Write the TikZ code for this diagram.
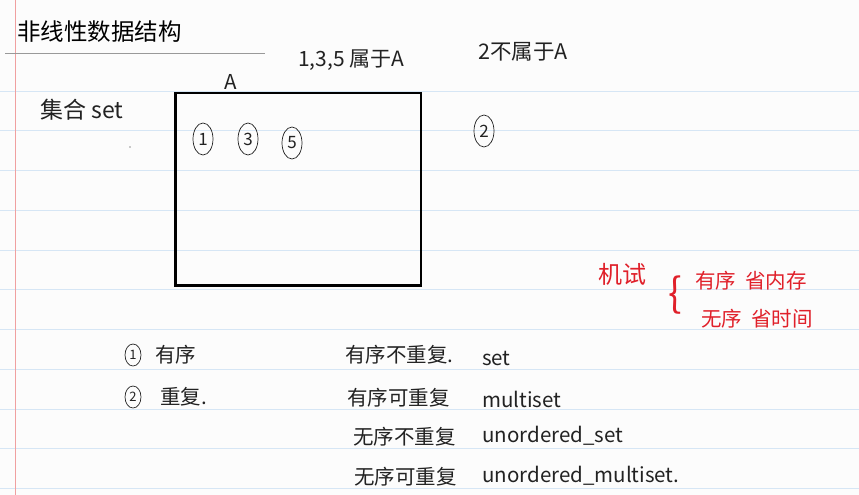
\documentclass[tikz,border=0pt]{standalone}
\usepackage{fontspec}
\setmainfont{Noto Sans CJK SC}
\newfontfamily\cjk{Noto Sans CJK SC}
\usetikzlibrary{shapes.geometric}
\definecolor{ruleblue}{HTML}{D6E6F5}
\definecolor{marginred}{HTML}{F0A0A0}
\definecolor{ink}{HTML}{222222}
\definecolor{redink}{HTML}{E0202A}
\tikzset{
  hand/.style={font=\fontsize{20.5}{22}\selectfont, text=ink, inner sep=0pt, anchor=west},
  redhand/.style={font=\fontsize{20.5}{22}\selectfont, text=redink, inner sep=0pt, anchor=west},
  circnum/.style={draw=ink, ellipse, line width=0.7pt, inner sep=0pt, minimum width=20pt, minimum height=32pt, font=\fontsize{17}{18}\selectfont, text=ink},
  smallcirc/.style={circnum, minimum width=16pt, minimum height=22pt, font=\fontsize{13}{14}\selectfont},
  ruleline/.style={ruleblue, line width=1pt}
}
\begin{document}
\begin{tikzpicture}[x=1pt,y=-1pt]
\fill[white!98!gray] (0,0) rectangle (859,495);
\useasboundingbox (0,0) rectangle (859,495);
% ruled lines
\foreach \yy in {91,130.5,170,210,250,289.5,329,369,409,448.5,488}
  \draw[ruleline] (0,\yy) -- (859,\yy);
% margin line
\draw[marginred, line width=0.8pt] (15,0) -- (15,495);
% title
\node[font=\fontsize{23.5}{25}\selectfont, text=black, inner sep=0pt, anchor=west] (title) at (17,32) {非线性数据结构};
\draw[gray!80, line width=0.6pt] (5,53) -- (265,53);
% box A
\draw[black, line width=2.6pt] (175.5,93) rectangle (421,285.5);
\node[hand] (A) at (224,82) {A};
\node[hand, font=\fontsize{23}{25}\selectfont] (jihe) at (40,110) {集合 set};
\fill[ink] (130,147) circle (0.6pt);
\node[circnum] (c1) at (203,139) {1};
\node[circnum] (c3) at (248,139) {3};
\node[circnum] (c5) at (292,143) {5};
\node[hand, font=\fontsize{21}{23}\selectfont] (in135) at (298,60) {1,3,5 属于A};
\node[hand, font=\fontsize{21.5}{23}\selectfont] (not2) at (478,52) {2不属于A};
\node[circnum] (c2) at (484,131) {2};
% red notes
\node[redhand, font=\fontsize{24}{26}\selectfont] (jishi) at (598,274) {机试};
\node[redhand, font=\fontsize{40}{42}\selectfont] (brace) at (668,295) {\{};
\node[redhand, align=left, font=\fontsize{20.5}{38}\selectfont] (notes) at (695,300)
  {有序\ \ 省内存\\\hspace*{6pt}无序\ \ 省时间};
% bottom left list
\node[smallcirc] (b1) at (133,355) {1};
\node[hand] (b1t) at (155,355) {有序};
\node[smallcirc] (b2) at (133,397) {2};
\node[hand] (b2t) at (160,397) {重复.};
% middle column
\node[hand] (m1) at (345,355) {有序不重复.};
\node[hand] (m2) at (347,398) {有序可重复};
\node[hand] (m3) at (353,437) {无序不重复};
\node[hand] (m4) at (354,477) {无序可重复};
% right column
\node[hand] (r1) at (482,358) {set};
\node[hand] (r2) at (482,399) {multiset};
\node[hand] (r3) at (482,436) {unordered\_set};
\node[hand] (r4) at (482,476) {unordered\_multiset.};
\end{tikzpicture}
\end{document}
